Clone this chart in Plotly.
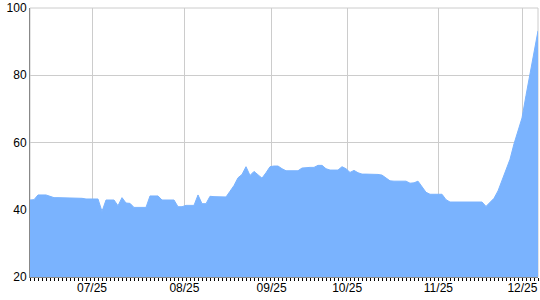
import plotly.graph_objects as go

# one value per trading day
values = [
    42.9, 43.0, 44.4, 44.4, 44.4, 44.0, 43.6, 43.6, 43.6, 43.6,
    43.6, 43.6, 43.6, 43.4, 43.2, 43.2, 43.2, 43.2, 39.5, 42.9,
    42.9, 42.9, 41.2, 43.6, 42.0, 41.9, 40.7, 40.7, 40.7, 40.7,
    44.1, 44.1, 44.1, 42.9, 42.9, 42.9, 42.9, 40.9, 40.9, 41.3,
    41.3, 41.3, 44.4, 41.8, 41.8, 44.0, 43.9, 43.9, 43.9, 43.8,
    45.5, 47.2, 49.5, 50.5, 52.8, 50.2, 51.4, 50.5, 49.4, 51.0,
    52.8, 53.0, 53.0, 52.2, 51.6, 51.6, 51.6, 51.6, 52.4, 52.6,
    52.6, 52.6, 53.2, 53.2, 52.2, 51.8, 51.8, 51.8, 52.8, 52.2,
    51.1, 51.7, 51.0, 50.6, 50.6, 50.6, 50.7, 50.5, 50.3, 49.5,
    48.6, 48.5, 48.5, 48.5, 48.5, 47.9, 48.0, 48.5, 47.0, 45.2,
    44.6, 44.6, 44.6, 44.6, 43.0, 42.3, 42.3, 42.3, 42.3, 42.3,
    42.3, 42.3, 42.3, 42.3, 41.0, 42.3, 43.4, 45.6, 48.8, 51.9,
    55.0, 59.6, 63.6, 67.3, 74.0, 80.3, 86.5, 93.2,
]
days = list(range(len(values)))

tick_positions = [15.5, 38.6, 60.4, 79.3, 102.1, 123.1]
tick_labels = ["07/25", "08/25", "09/25", "10/25", "11/25", "12/25"]
y_ticks = [20, 40, 60, 80, 100]

fig = go.Figure()
fig.add_trace(go.Scatter(
    x=days, y=values, mode="lines", fill="tozeroy",
    line=dict(color="#7ab3fe", width=1), fillcolor="#7ab3fe",
    hoverinfo="skip",
))

font = dict(family="Liberation Sans, Arial, sans-serif", size=12, color="#000")
fig.update_layout(
    width=540, height=300,
    margin=dict(l=30, r=2, t=8, b=23),
    paper_bgcolor="white", plot_bgcolor="white",
    showlegend=False, font=font,
    xaxis=dict(
        range=[0, len(values) - 1], tickmode="array",
        tickvals=tick_positions, ticktext=tick_labels,
        showgrid=True, gridcolor="#cccccc", gridwidth=1,
        showline=True, linecolor="#888888", linewidth=1,
        ticks="", zeroline=False,
        minor=dict(tickmode="linear", tick0=0, dtick=1, ticks="outside",
                   ticklen=3, tickcolor="#000000", tickwidth=1, showgrid=False),
        tickfont=font,
    ),
    yaxis=dict(
        range=[20, 100], tickmode="array", tickvals=y_ticks,
        showgrid=True, gridcolor="#cccccc", gridwidth=1,
        showline=True, linecolor="#888888", linewidth=1,
        ticks="", zeroline=False, tickfont=font,
    ),
    shapes=[dict(type="rect", xref="paper", yref="paper", x0=0, x1=1, y0=0, y1=1,
                 line=dict(color="#cccccc", width=1), layer="below")],
)
fig.write_html("out.html")
